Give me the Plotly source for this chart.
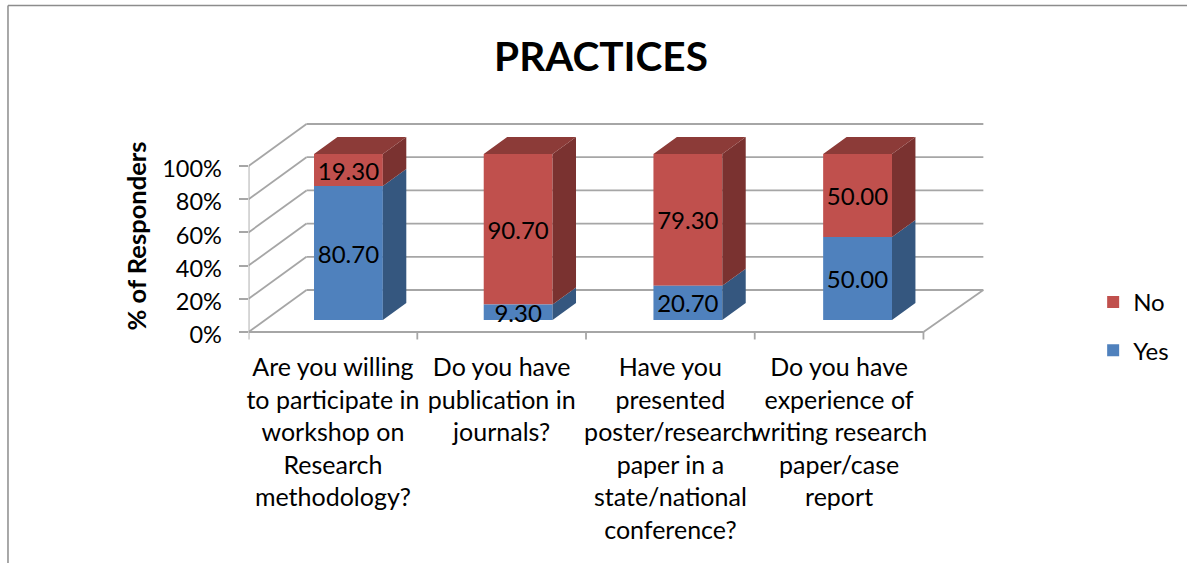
import plotly.graph_objects as go

categories = [
    "Are you willing<br>to participate in<br>workshop on<br>Research<br>methodology?",
    "Do you have<br>publication in<br>journals?",
    "Have you<br>presented<br>poster/research<br>paper in a<br>state/national<br>conference?",
    "Do you have<br>experience of<br>writing research<br>paper/case<br>report",
]
yes_values = [80.70, 9.30, 20.70, 50.00]
no_values = [19.30, 90.70, 79.30, 50.00]
y_ticks = [0, 20, 40, 60, 80, 100]
y_tick_labels = ["0%", "20%", "40%", "60%", "80%", "100%"]

FONT = "Lato"
BLUE, BLUE_SIDE = "#4F81BD", "#35577F"
RED, RED_SIDE, RED_TOP = "#C0504D", "#7A3230", "#8C3B38"
GRID = "#A6A6A6"

W, H = 1187, 563
PX_X, PX_Y = 169.0, 1.66        # pixels per x unit / per y unit
LEFT, RIGHT, TOP, BOTTOM, ZERO = 247, 995, 122, 350, 332
DX, DY = 58 / PX_X, 42 / PX_Y   # oblique depth of the floor in axis units
BACK_W = 678 / PX_X             # back wall is slightly wider than the front edge
D0, D1 = 0.285, 0.69            # bar depth extent
BAR_W = 0.408
BAR_PITCH = 170 / PX_X
BAR_START = 0.494
N = len(categories)
tick_centers = [i + 0.5 for i in range(N)]
bar_centers = [BAR_START + i * BAR_PITCH for i in range(N)]
yes_base = [0] * N
no_base = yes_values


def proj(x, y, d):
    return x + d * DX, y + d * DY


def faces(bases, values, kind):
    xs, ys = [], []
    for c, b, v in zip(bar_centers, bases, values):
        xl, xr = c - BAR_W / 2, c + BAR_W / 2
        if kind == "side":
            corners = [proj(xr, b, D0), proj(xr, b, D1), proj(xr, b + v, D1), proj(xr, b + v, D0)]
        else:
            corners = [proj(xl, b + v, D0), proj(xl, b + v, D1), proj(xr, b + v, D1), proj(xr, b + v, D0)]
        corners.append(corners[0])
        xs += [p[0] for p in corners] + [None]
        ys += [p[1] for p in corners] + [None]
    return xs, ys


def poly(xy, color):
    return go.Scatter(x=xy[0], y=xy[1], mode="lines", line=dict(width=0), fill="toself",
                      fillcolor=color, hoverinfo="skip", showlegend=False)


def bar(name, values, bases, color):
    return go.Bar(
        name=name, legendgroup=name,
        x=[proj(c, 0, D0)[0] for c in bar_centers], y=values,
        base=[b + D0 * DY for b in bases], width=BAR_W,
        marker=dict(color=color, line=dict(width=0)),
        text=[f"{v:.2f}" for v in values], textposition="inside", insidetextanchor="middle",
        textangle=0, constraintext="none", textfont=dict(family=FONT, size=24, color="black"),
    )


fig = go.Figure([
    bar("No", no_values, no_base, RED),
    bar("Yes", yes_values, yes_base, BLUE),
    poly(faces(yes_base, yes_values, "side"), BLUE_SIDE),
    poly(faces(no_base, no_values, "side"), RED_SIDE),
    poly(faces(no_base, no_values, "top"), RED_TOP),
])


def seg(x0, y0, x1, y1):
    return dict(type="line", xref="x", yref="y", x0=x0, y0=y0, x1=x1, y1=y1, layer="below",
                line=dict(color=GRID, width=1.8))


shapes = []
for v in y_ticks:
    shapes.append(seg(DX, v + DY, DX + BACK_W, v + DY))
    shapes.append(seg(0, v, DX, v + DY))
shapes.append(seg(0, 0, 0, 100))
shapes.append(seg(0, 0, N, 0))
shapes.append(seg(N, 0, DX + BACK_W, DY))
for i in range(N + 1):
    shapes.append(seg(i, 0, i, -4.5))
for x0, y0, x1, y1 in [(6 / W, 0, 6 / W, 1 - 5.5 / H), (6 / W, 1 - 5.5 / H, 1, 1 - 5.5 / H)]:
    shapes.append(dict(type="line", xref="paper", yref="paper", x0=x0, y0=y0, x1=x1, y1=y1,
                       line=dict(color="#8C8C8C", width=1.5)))

fig.update_layout(
    width=W, height=H, autosize=False, barmode="overlay",
    margin=dict(l=0, r=0, t=0, b=0, pad=0),
    paper_bgcolor="white", plot_bgcolor="white",
    font=dict(family=FONT, color="black"),
    title=dict(text="<b>PRACTICES</b>", x=601 / W, xanchor="center", y=1 - 57 / H, yanchor="middle",
               font=dict(family=FONT, size=40.5, color="black")),
    xaxis=dict(domain=[LEFT / W, RIGHT / W], range=[0, (RIGHT - LEFT) / PX_X],
               tickmode="array", tickvals=tick_centers, ticktext=categories,
               tickfont=dict(family=FONT, size=25, color="black"), tickangle=0,
               ticks="", showgrid=False, zeroline=False, showline=False, fixedrange=True),
    yaxis=dict(domain=[1 - BOTTOM / H, 1 - TOP / H],
               range=[(ZERO - BOTTOM) / PX_Y, (ZERO - TOP) / PX_Y],
               tickmode="array", tickvals=y_ticks, ticktext=y_tick_labels,
               tickfont=dict(family=FONT, size=23.5, color="black"),
               ticks="outside", ticklen=9, tickwidth=1.8, tickcolor=GRID,
               ticklabelstandoff=12, ticklabelshift=3,
               showgrid=False, zeroline=False, showline=False, fixedrange=True,
               title=dict(text="<b>% of Responders</b>", standoff=8,
                          font=dict(family=FONT, size=25.5, color="black"))),
    legend=dict(x=1093 / W, xanchor="left", y=1 - 280 / H, yanchor="top",
                traceorder="grouped", tracegroupgap=14,
                font=dict(family=FONT, size=24, color="black"), bgcolor="rgba(0,0,0,0)"),
    shapes=shapes,
)

fig.write_html("out.html", config=dict(displayModeBar=False),
               post_script="document.body.style.margin='0';")
